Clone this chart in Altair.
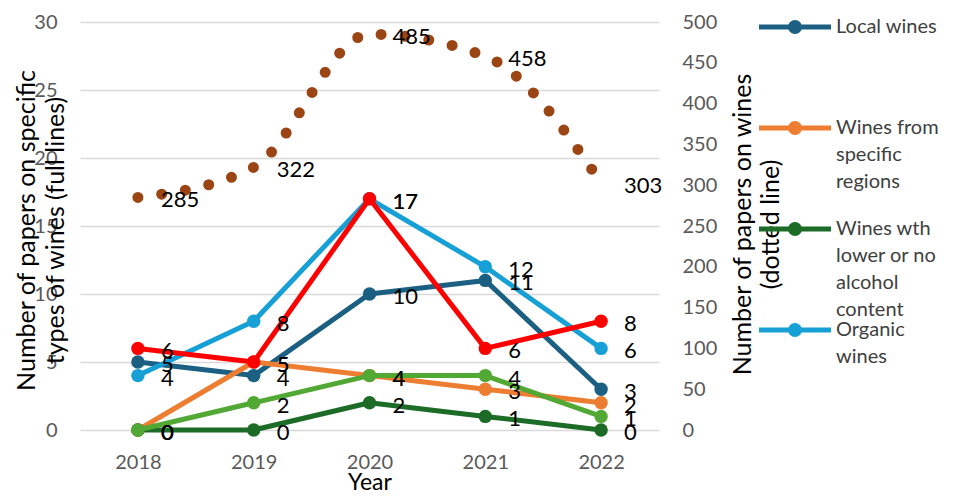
import altair as alt
import pandas as pd

years = ["2018", "2019", "2020", "2021", "2022"]
series_names = [
    "Local wines",
    "Wines from specific regions",
    "Wines wth lower or no alcohol content",
    "Organic wines",
    "Series 5",
    "Series 6",
]
local_wines = [5, 4, 10, 11, 3]
specific_regions = [0, 5, 4, 3, 2]
low_alcohol = [0, 0, 2, 1, 0]
organic_wines = [4, 8, 17, 12, 6]
series_5 = [6, 5, 17, 6, 8]
series_6 = [0, 2, 4, 4, 1]
papers_on_wines = [285, 322, 485, 458, 303]

legend_lines = [
    ["Local wines"],
    ["Wines from", "specific", "regions"],
    ["Wines wth", "lower or no", "alcohol", "content"],
    ["Organic", "wines"],
]

colors = ["#1B5F82", "#ED7D31", "#1C6B27", "#17A0D6", "#FF0000", "#52A834"]
brown = "#9C4514"
font = "Lato"

all_values = [local_wines, specific_regions, low_alcohol, organic_wines, series_5, series_6]
rows = []
for name, vals in zip(series_names, all_values):
    for y, v in zip(years, vals):
        rows.append({"year": y, "series": name, "value": v})
df = pd.DataFrame(rows)
df_total = pd.DataFrame({"year": years, "papers": papers_on_wines})

# legend label expression (pad every label to 4 lines so entries are evenly spaced)
expr = "''"
for name, lines in reversed(list(zip(series_names[:4], legend_lines))):
    padded = lines + [""] * (4 - len(lines))
    arr = "[" + ",".join("'" + s + "'" for s in padded) + "]"
    expr = f"datum.label == '{name}' ? {arr} : ({expr})"

# custom legend symbol: a line with a dot in the middle (units of 7.5 px)
legend_symbol = (
    "M-4.8,0H4.8"
    "M-0.6,0a0.6,0.6 0 1,0 1.2,0a0.6,0.6 0 1,0 -1.2,0"
    "M-0.2,0a0.2,0.2 0 1,0 0.4,0a0.2,0.2 0 1,0 -0.4,0"
)

x_enc = alt.X(
    "year:O",
    scale=alt.Scale(type="point", padding=0.5),
    axis=alt.Axis(
        title="Year", labelAngle=0, labelFontSize=20, labelColor="#595959", labelFont=font,
        labelPadding=22, titleFontSize=23, titleColor="#000000", titleFont=font,
        titleFontWeight="normal", titlePadding=-1, domain=False, ticks=False, grid=False,
    ),
)

y_left = alt.Y(
    "value:Q",
    scale=alt.Scale(domain=[0, 30]),
    axis=alt.Axis(
        values=[0, 5, 10, 15, 20, 25, 30],
        title=["Number of papers on specific", "types of wines (full lines)"],
        titleAngle=270, titleX=-54, titleY=208, titleAlign="center", titleBaseline="middle",
        titleFontSize=25, titleFont=font, titleColor="#000000", titleFontWeight="normal",
        titleLineHeight=29,
        labelFontSize=20, labelFont=font, labelColor="#595959", labelPadding=23,
        domain=False, ticks=False, grid=True, gridColor="#D9D9D9", gridWidth=1.5,
    ),
)

color_enc = alt.Color(
    "series:N",
    scale=alt.Scale(domain=series_names, range=colors),
    legend=alt.Legend(
        values=series_names[:4], orient="none", legendX=679, legendY=-5, title=None,
        symbolType=legend_symbol, symbolSize=225, symbolStrokeWidth=5, symbolOffset=26,
        labelOffset=31, rowPadding=-6, padding=0, labelFontSize=20, labelFont=font,
        labelColor="#404040", labelExpr=expr, labelLimit=0, labelBaseline="middle",
    ),
)

series_layers = []
for name in series_names:
    series_layers.append(
        alt.Chart(df)
        .transform_filter(alt.FieldEqualPredicate(field="series", equal=name))
        .mark_line(strokeWidth=5, strokeJoin="round",
                   point=alt.OverlayMarkDef(filled=True, size=180, opacity=1))
        .encode(x=x_enc, y=y_left, color=color_enc)
    )

series_labels = alt.Chart(df).mark_text(
    align="left", baseline="middle", dx=23, dy=3, fontSize=22, font=font, color="#000000"
).encode(x=x_enc, y=y_left, text="value:Q")

left = alt.layer(*series_layers, series_labels)

y_right = alt.Y(
    "papers:Q",
    scale=alt.Scale(domain=[0, 500]),
    axis=alt.Axis(
        orient="right", values=list(range(0, 501, 50)),
        title=["Number of papers on wines", "(dotted line)"],
        titleAngle=270, titleX=83, titleY=202, titleAlign="center", titleBaseline="middle",
        titleFontSize=25, titleFont=font, titleColor="#000000", titleFontWeight="normal",
        titleLineHeight=28,
        labelFontSize=20, labelFont=font, labelColor="#595959", labelPadding=23,
        domain=False, ticks=False, grid=False,
    ),
)

dotted = alt.Chart(df_total).mark_line(
    interpolate="monotone", color=brown, strokeWidth=11, strokeDash=[0, 24], strokeCap="round"
).encode(x=x_enc, y=y_right)

dotted_labels = alt.Chart(df_total).mark_text(
    align="left", baseline="middle", dx=23, dy=3, fontSize=22, font=font, color="#000000"
).encode(x=x_enc, y=y_right, text="papers:Q")

right = alt.layer(dotted, dotted_labels)

chart = (
    alt.layer(left, right)
    .resolve_scale(y="independent")
    .properties(
        width=579, height=408,
        autosize=alt.AutoSizeParams(type="none"),
        padding={"left": 72, "top": 14, "right": 285, "bottom": 60},
    )
    .configure(font=font, style={"guide-label": {"lineHeight": 27}})
    .configure_view(stroke=None)
)

chart.save("out.html", embed_options={"renderer": "svg", "actions": False})
